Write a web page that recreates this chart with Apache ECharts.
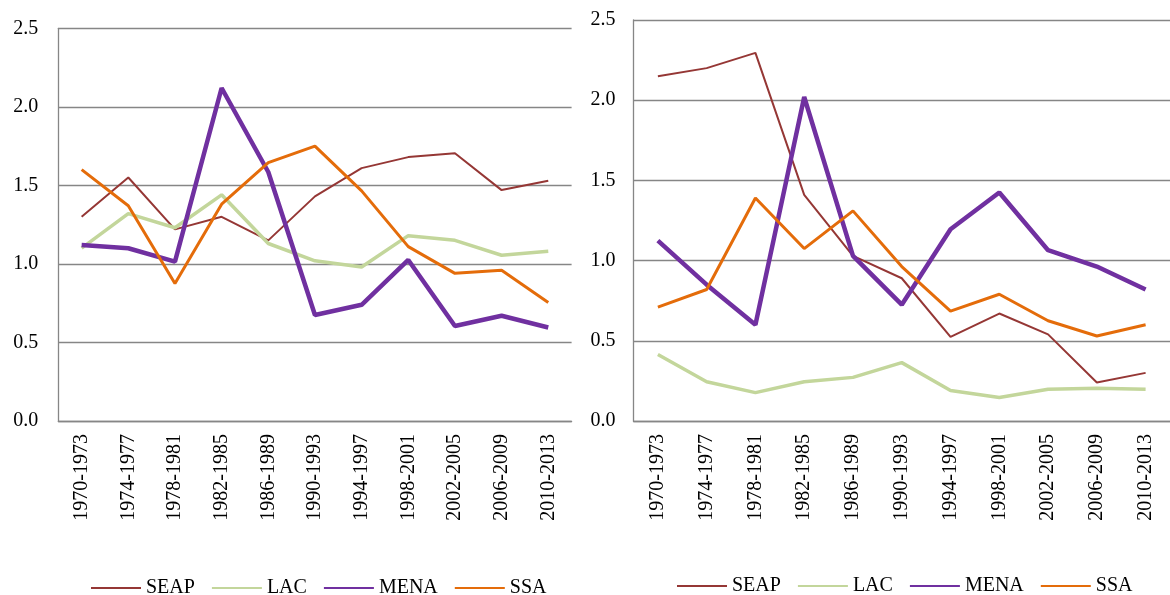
<!DOCTYPE html>
<html>
<head>
<meta charset="utf-8">
<script src="https://cdn.jsdelivr.net/npm/echarts@6/dist/echarts.min.js"></script>
<style>html,body{margin:0;padding:0;background:#fff}#c{width:1170px;height:595px}</style>
</head>
<body>
<div id="c"></div>
<script>
const categories = ['1970-1973','1974-1977','1978-1981','1982-1985','1986-1989','1990-1993','1994-1997','1998-2001','2002-2005','2006-2009','2010-2013'];
const yTicks = [0, 0.5, 1.0, 1.5, 2.0, 2.5];
const seriesNames = ['SEAP','LAC','MENA','SSA'];

// Left panel
const leftSEAP = [1.30, 1.55, 1.22, 1.30, 1.15, 1.43, 1.61, 1.68, 1.705, 1.47, 1.53];
const leftLAC  = [1.10, 1.32, 1.23, 1.44, 1.13, 1.02, 0.98, 1.18, 1.15, 1.055, 1.08];
const leftMENA = [1.12, 1.10, 1.015, 2.12, 1.585, 0.675, 0.74, 1.025, 0.605, 0.67, 0.595];
const leftSSA  = [1.60, 1.37, 0.875, 1.38, 1.645, 1.75, 1.465, 1.11, 0.94, 0.96, 0.755];

// Right panel
const rightSEAP = [2.15, 2.20, 2.295, 1.41, 1.03, 0.89, 0.525, 0.67, 0.54, 0.24, 0.30];
const rightLAC  = [0.415, 0.245, 0.177, 0.245, 0.272, 0.364, 0.19, 0.146, 0.198, 0.204, 0.198];
const rightMENA = [1.125, 0.85, 0.60, 2.02, 1.03, 0.725, 1.195, 1.425, 1.065, 0.963, 0.82];
const rightSSA  = [0.71, 0.82, 1.39, 1.075, 1.31, 0.963, 0.685, 0.79, 0.625, 0.53, 0.60];

const colors = {SEAP:'#953735', LAC:'#c3d69b', MENA:'#7030a0', SSA:'#e46c0a'};
const widths = {SEAP:2, LAC:3.5, MENA:4.5, SSA:3};
const FONT = '"Liberation Serif", "Times New Roman", serif';
const gridColor = '#868686';

function xAxis(gi){
  return {
    type:'category', gridIndex:gi, data:categories, boundaryGap:true,
    axisLine:{show:true, lineStyle:{color:gridColor, width:1.3}},
    axisTick:{show:false},
    axisLabel:{rotate:90, margin:13, fontFamily:FONT, fontSize:20, color:'#000', interval:0}
  };
}
function yAxis(gi, margin){
  return {
    type:'value', gridIndex:gi, min:yTicks[0], max:yTicks[yTicks.length-1], interval:0.5,
    axisLine:{show:true, lineStyle:{color:gridColor, width:1.3}},
    axisTick:{show:false},
    splitLine:{show:true, lineStyle:{color:gridColor, width:1.3}},
    axisLabel:{margin:margin, fontFamily:FONT, fontSize:20, color:'#000', formatter:v=>v.toFixed(1)}
  };
}
function mk(name, data, gi){
  return {
    name:name, type:'line', xAxisIndex:gi, yAxisIndex:gi, data:data,
    symbol:'none', showSymbol:false, smooth:false, animation:false,
    lineStyle:{color:colors[name], width:widths[name]},
    itemStyle:{color:colors[name]}
  };
}
function legend(left, top){
  return {
    left:left, top:top, itemWidth:50, itemHeight:14, itemGap:16,
    itemStyle:{opacity:0, borderWidth:0},
    textStyle:{fontFamily:FONT, fontSize:20, color:'#000'},
    data:seriesNames.map(n=>({name:n})),
    selectedMode:false
  };
}

const chart = echarts.init(document.getElementById('c'), null, {renderer:'canvas'});
const leftSeries = [mk('SEAP',leftSEAP,0), mk('LAC',leftLAC,0), mk('MENA',leftMENA,0), mk('SSA',leftSSA,0)];
const rightSeries = [mk('SEAP',rightSEAP,1), mk('LAC',rightLAC,1), mk('MENA',rightMENA,1), mk('SSA',rightSSA,1)];
chart.setOption({
  animation:false,
  backgroundColor:'#fff',
  grid:[
    {left:58.3, right:598.4, top:28.3, bottom:174, containLabel:false},
    {left:633.5, right:-10.6, top:20, bottom:174, containLabel:false}
  ],
  xAxis:[xAxis(0), xAxis(1)],
  yAxis:[yAxis(0,20), yAxis(1,18)],
  legend:[legend(85, 573), legend(671, 571)],
  series:leftSeries.concat(rightSeries)
});
</script>
</body>
</html>
